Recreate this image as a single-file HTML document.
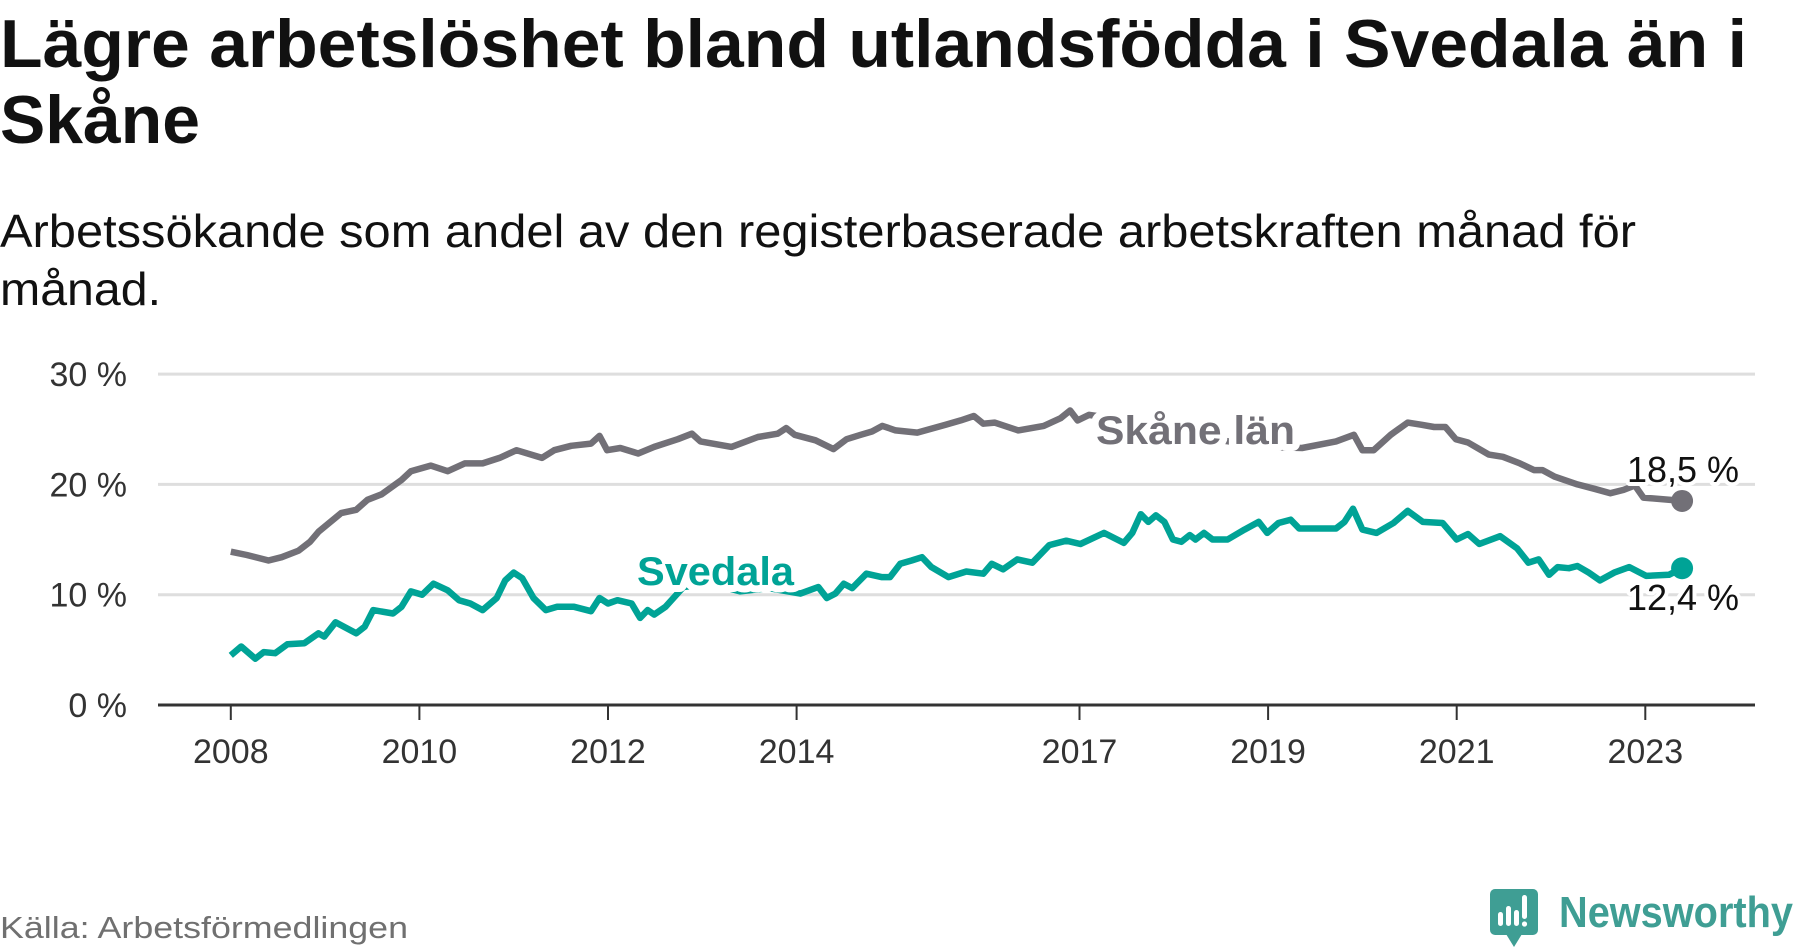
<!DOCTYPE html>
<html><head><meta charset="utf-8"><style>
html,body{margin:0;padding:0;background:#fff;}
svg{display:block;font-family:"Liberation Sans",sans-serif;}
</style></head><body>
<svg id="chart" width="1800" height="948" viewBox="0 0 1800 948" xmlns="http://www.w3.org/2000/svg">
<text x="0" y="67" font-size="68" font-weight="bold" fill="#111" textLength="1747" lengthAdjust="spacingAndGlyphs">Lägre arbetslöshet bland utlandsfödda i Svedala än i</text>
<text x="0" y="143" font-size="68" font-weight="bold" fill="#111" textLength="200" lengthAdjust="spacingAndGlyphs">Skåne</text>
<text x="0" y="247" font-size="46" fill="#111" textLength="1636" lengthAdjust="spacingAndGlyphs">Arbetssökande som andel av den registerbaserade arbetskraften månad för</text>
<text x="0" y="305" font-size="46" fill="#111" textLength="161" lengthAdjust="spacingAndGlyphs">månad.</text>
<g id="grid"></g>
<g id="series"></g>
<g id="labels"></g>
<text x="0" y="938" font-size="31" fill="#707070" textLength="408" lengthAdjust="spacingAndGlyphs">Källa: Arbetsförmedlingen</text>
<g>
<rect x="1490" y="889" width="48" height="46" rx="5" fill="#3f9e94"/>
<path d="M1506 934 L1514 947 L1522 934 Z" fill="#3f9e94"/>
<g fill="#fff">
<rect x="1498" y="912" width="5" height="14" rx="2.5"/><rect x="1506" y="906" width="5" height="20" rx="2.5"/><rect x="1514" y="910" width="5" height="16" rx="2.5"/><rect x="1522" y="895" width="5" height="24" rx="2.5"/><circle cx="1524.5" cy="924" r="2.6"/>
</g>
<text x="1559" y="927" font-size="44" font-weight="bold" fill="#3f9e94" textLength="234" lengthAdjust="spacingAndGlyphs">Newsworthy</text>
</g>
</svg>
<script>
const yTicks = [0, 10, 20, 30];
const yTickLabels = ["0 %", "10 %", "20 %", "30 %"];
const xTicks = [2008, 2010, 2012, 2014, 2017, 2019, 2021, 2023];
const skaneDates = [2008.0,2008.17,2008.40,2008.54,2008.72,2008.84,2008.93,2009.17,2009.33,2009.45,2009.60,2009.81,2009.91,2010.12,2010.30,2010.48,2010.67,2010.85,2011.03,2011.30,2011.43,2011.61,2011.82,2011.91,2011.99,2012.13,2012.32,2012.49,2012.74,2012.89,2012.98,2013.31,2013.59,2013.80,2013.89,2013.98,2014.20,2014.39,2014.53,2014.68,2014.80,2014.91,2015.05,2015.28,2015.58,2015.74,2015.88,2015.98,2016.10,2016.35,2016.62,2016.80,2016.90,2016.98,2017.10,2017.5,2018.0,2018.5,2019.0,2019.36,2019.72,2019.91,2020.00,2020.12,2020.30,2020.48,2020.63,2020.76,2020.88,2020.99,2021.12,2021.34,2021.49,2021.67,2021.82,2021.91,2022.04,2022.28,2022.46,2022.63,2022.77,2022.89,2022.98,2023.25,2023.39];
const skaneValues = [13.9,13.6,13.1,13.4,14.0,14.8,15.7,17.4,17.7,18.6,19.1,20.4,21.2,21.7,21.2,21.9,21.9,22.4,23.1,22.4,23.1,23.5,23.7,24.4,23.1,23.3,22.8,23.4,24.1,24.6,23.9,23.4,24.3,24.6,25.1,24.5,24.0,23.2,24.1,24.5,24.8,25.3,24.9,24.7,25.4,25.8,26.2,25.5,25.6,24.9,25.3,26.0,26.7,25.8,26.3,25.8,24.8,24.0,23.4,23.3,23.9,24.5,23.1,23.1,24.5,25.6,25.4,25.2,25.2,24.1,23.8,22.7,22.5,21.9,21.3,21.3,20.7,20.0,19.6,19.2,19.5,19.9,18.8,18.6,18.5];
const svedalaDates = [2008.0,2008.11,2008.26,2008.35,2008.47,2008.60,2008.78,2008.93,2008.99,2009.11,2009.33,2009.42,2009.51,2009.72,2009.81,2009.91,2010.03,2010.15,2010.30,2010.42,2010.54,2010.67,2010.82,2010.91,2011.00,2011.09,2011.21,2011.34,2011.46,2011.64,2011.82,2011.91,2012.00,2012.10,2012.25,2012.34,2012.42,2012.49,2012.61,2012.80,2013.1,2013.4,2013.7,2014.04,2014.23,2014.32,2014.41,2014.50,2014.59,2014.74,2014.90,2014.99,2015.10,2015.22,2015.33,2015.43,2015.61,2015.80,2015.98,2016.07,2016.19,2016.34,2016.50,2016.68,2016.86,2017.01,2017.26,2017.47,2017.56,2017.65,2017.73,2017.81,2017.90,2017.99,2018.08,2018.17,2018.23,2018.32,2018.41,2018.57,2018.75,2018.90,2018.99,2019.11,2019.24,2019.33,2019.72,2019.81,2019.90,2020.00,2020.15,2020.33,2020.48,2020.64,2020.85,2021.00,2021.12,2021.24,2021.46,2021.64,2021.76,2021.87,2021.98,2022.07,2022.19,2022.28,2022.40,2022.52,2022.67,2022.83,2023.01,2023.25,2023.39];
const svedalaValues = [4.5,5.3,4.2,4.8,4.7,5.5,5.6,6.5,6.2,7.5,6.5,7.1,8.6,8.3,8.9,10.3,10.0,11.0,10.4,9.5,9.2,8.6,9.7,11.3,12.0,11.5,9.7,8.6,8.9,8.9,8.5,9.7,9.2,9.5,9.2,7.9,8.6,8.2,8.9,10.7,11.0,10.3,10.6,10.1,10.7,9.7,10.1,11.0,10.6,11.9,11.6,11.6,12.8,13.1,13.4,12.5,11.6,12.1,11.9,12.8,12.3,13.2,12.9,14.5,14.9,14.6,15.6,14.7,15.6,17.3,16.6,17.2,16.6,15.0,14.8,15.4,15.0,15.6,15.0,15.0,15.9,16.6,15.6,16.5,16.8,16.0,16.0,16.6,17.8,15.9,15.6,16.5,17.6,16.6,16.5,15.0,15.5,14.6,15.3,14.2,12.9,13.2,11.8,12.5,12.4,12.6,12.0,11.3,12.0,12.5,11.7,11.8,12.4];
const endLabels = ["18,5 %", "12,4 %"];

const NS = "http://www.w3.org/2000/svg";
const X = y => 230.8 + (y - 2008) * 94.3;
const Y = v => 705 - v * 11.03;
function mk(tag, attrs, parent, txt) {
  const e = document.createElementNS(NS, tag);
  for (const k in attrs) e.setAttribute(k, attrs[k]);
  if (txt !== undefined) e.textContent = txt;
  parent.appendChild(e);
  return e;
}
const grid = document.getElementById('grid');
yTicks.forEach((t, i) => {
  if (t > 0) {
    const l = mk('line', {x1: 158, x2: 1755, y1: Y(t), y2: Y(t), stroke: '#dedede', 'stroke-width': 3}, grid);
    
    
  }
  const tx = mk('text', {x: 127, y: Y(t) + 12, 'text-anchor': 'end', 'font-size': 34, fill: '#333'}, grid, yTickLabels[i]);
  
  
});
const ax = mk('line', {x1: 158, x2: 1755, y1: 705, y2: 705, stroke: '#333', 'stroke-width': 3}, grid);


xTicks.forEach(t => {
  const tk = mk('line', {x1: X(t), x2: X(t), y1: 705, y2: 720, stroke: '#333', 'stroke-width': 2}, grid);
  
  
  const tx = mk('text', {x: X(t), y: 763, 'text-anchor': 'middle', 'font-size': 34, fill: '#333'}, grid, String(t));
  
  
});
const series = document.getElementById('series');
function drawLine(dates, vals, color, name) {
  const d = dates.map((t, i) => (i ? 'L' : 'M') + X(t).toFixed(1) + ' ' + Y(vals[i]).toFixed(1)).join(' ');
  const p = mk('path', {d: d, fill: 'none', stroke: color, 'stroke-width': 6.5, 'stroke-linejoin': 'round'}, series);
  
  
  const n = dates.length - 1;
  const c = mk('circle', {cx: X(dates[n]), cy: Y(vals[n]), r: 11, fill: color}, series);
  
  
}
drawLine(skaneDates, skaneValues, '#727077', 'skane');
drawLine(svedalaDates, svedalaValues, '#00a396', 'svedala');
const labels = document.getElementById('labels');
const halo = {stroke: '#fff', 'stroke-width': 14, 'paint-order': 'stroke', 'stroke-linejoin': 'round'};
const sl = mk('text', Object.assign({x: 1096, y: 444, 'font-size': 40, 'font-weight': 'bold', fill: '#727077', textLength: 199, lengthAdjust: 'spacingAndGlyphs'}, halo), labels, 'Skåne län');


const vl = mk('text', Object.assign({x: 637, y: 585, 'font-size': 40, 'font-weight': 'bold', fill: '#00a396', textLength: 157, lengthAdjust: 'spacingAndGlyphs'}, halo), labels, 'Svedala');


const hs = {stroke: '#fff', 'stroke-width': 8, 'paint-order': 'stroke', 'stroke-linejoin': 'round'};
const n1 = skaneDates.length - 1, n2 = svedalaDates.length - 1;
const e1 = mk('text', Object.assign({x: X(skaneDates[n1]) + 57, y: Y(skaneValues[n1]) - 19, 'text-anchor': 'end', 'font-size': 36, fill: '#111'}, hs), labels, endLabels[0]);


const e2 = mk('text', Object.assign({x: X(svedalaDates[n2]) + 57, y: Y(svedalaValues[n2]) + 42, 'text-anchor': 'end', 'font-size': 36, fill: '#111'}, hs), labels, endLabels[1]);


</script>
</body></html>
